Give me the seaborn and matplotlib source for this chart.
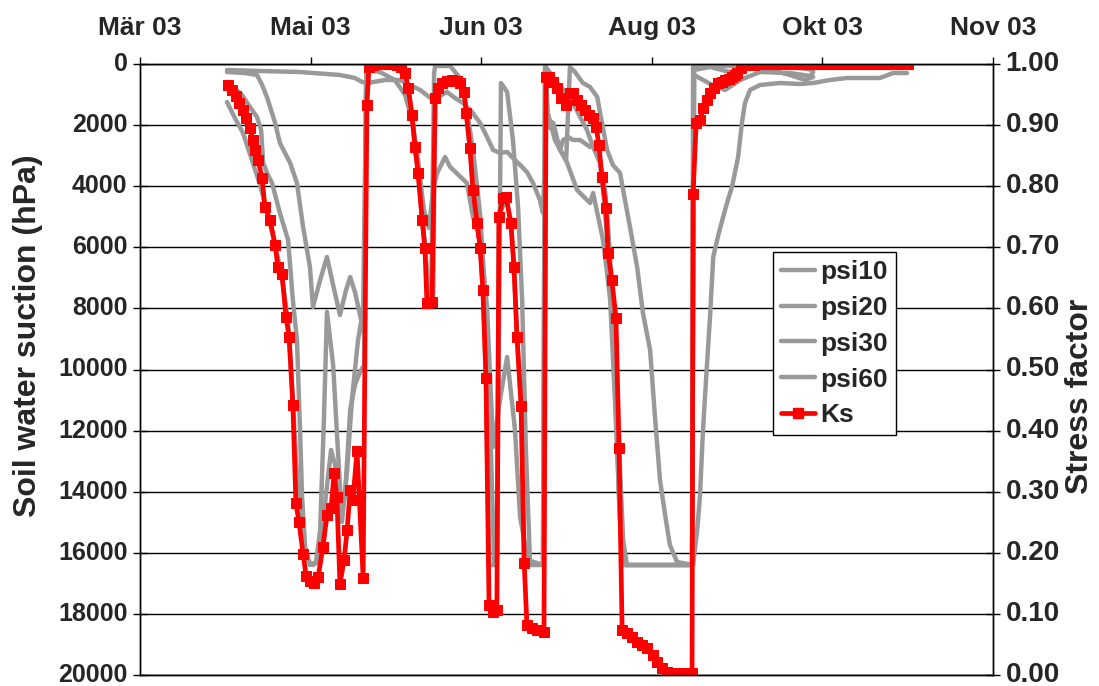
import numpy as np
import pandas as pd
import matplotlib
matplotlib.use("Agg")
import matplotlib.pyplot as plt
from matplotlib.lines import Line2D
import seaborn as sns

# ---------------- data (day of year 2003, suction in hPa, stress factor) ----------------
x_ticks = [77, 127, 177, 227, 277, 327]
x_tick_labels = ["Mär 03", "Mai 03", "Jun 03", "Aug 03", "Okt 03", "Nov 03"]
y_left_ticks = [0, 2000, 4000, 6000, 8000, 10000, 12000, 14000, 16000, 18000, 20000]
y_right_ticks = [0.0, 0.1, 0.2, 0.3, 0.4, 0.5, 0.6, 0.7, 0.8, 0.9, 1.0]

psi10_day = [102.5, 104.8, 107.2, 109.8, 112.2, 114.5, 116.6, 118.6, 120.4, 121.8, 123.0, 124.5, 126.0,
             127.7, 129.2, 130.3, 131.5, 133.0, 134.2, 135.6, 137.1, 138.6, 140.0, 141.5, 142.7, 143.3,
             143.8, 145.9, 150.3, 153.2, 154.7, 156.1, 157.6, 159.1, 160.2, 161.4, 162.3, 163.2, 163.5,
             167.9, 170.8, 172.8, 174.6, 176.7, 178.1, 179.6, 180.8, 181.6, 182.8, 184.6, 186.3, 187.8,
             189.0, 190.1, 191.3, 195.1, 195.7, 198.1, 200.1, 202.2, 203.9, 206.0, 208.0, 209.8, 211.8,
             213.3, 214.2, 214.8, 215.6, 216.8, 217.7, 218.6, 219.7, 229.4, 238.8, 239.1, 247.0, 258.7,
             270.4, 274.3]
psi10_hpa = [1244, 1767, 2258, 3142, 3960, 4942, 5924, 6972, 8444, 10997, 13452, 15416, 16234,
             16400, 16300, 15416, 14107, 12634, 13125, 14925, 14107, 11325, 10506, 10081, 9852, 300,
             100, 65, 98, 196, 524, 1178, 2487, 4124, 5597, 7397, 7888, 300, 65,
             65, 458, 1506, 2815, 4942, 7397, 11652, 16400, 16400, 622, 916, 2487, 4680,
             7724, 12634, 16300, 16400, 65, 425, 753, 949, 1276, 1735, 2160, 2717, 3240,
             4124, 5335, 6415, 7724, 10342, 13289, 15579, 16400, 16400, 16400, 65, 65, 65,
             131, 196]

psi20_day = [104.3, 106.9, 109.2, 111.3, 112.5, 113.1, 114.5, 115.7, 118.0, 120.4, 121.8, 123.0, 123.9,
             124.5, 125.4, 126.8, 128.6, 129.8, 130.9, 131.8, 133.6, 135.0, 136.2, 137.7, 139.1, 140.9,
             142.4, 143.3, 144.1, 147.3, 151.7, 154.7, 156.7, 158.5, 160.2, 161.7, 162.9, 164.1, 166.4,
             167.9, 172.8, 174.6, 176.7, 178.7, 180.5, 182.5, 184.6, 186.9, 188.4, 190.7, 195.1, 195.7,
             196.3, 198.6, 201.0, 202.2, 205.1, 208.9, 209.8, 212.7, 213.9, 214.8, 216.2, 217.7, 219.2,
             238.8, 239.4, 244.7, 248.5, 252.9, 258.7, 267.5, 273.4, 274.3]
psi20_hpa = [753, 1015, 1407, 1735, 2160, 3240, 3633, 3895, 4877, 5760, 7724, 9033, 11979,
             14172, 15809, 16400, 16300, 15252, 11652, 8117, 9852, 12634, 14990, 13289, 10997, 9033,
             8051, 524, 196, 262, 524, 1015, 1833, 3142, 4779, 5368, 4124, 3568, 3044,
             3371, 3895, 5008, 5760, 7953, 12536, 10997, 9590, 11979, 14827, 16234, 16400, 196,
             1506, 2487, 2978, 3240, 4124, 4550, 4222, 5760, 6841, 7724, 10997, 14925, 16400,
             16400, 360, 687, 851, 524, 262, 295, 393, 262]

psi30_day = [102.5, 107.8, 111.3, 112.8, 114.2, 116.6, 118.0, 121.0, 123.0, 124.8, 126.8, 127.7, 129.8,
             131.8, 133.6, 135.6, 137.4, 138.6, 140.0, 141.5, 142.7, 143.3, 144.1, 153.2, 154.7, 155.6,
             156.7, 157.6, 158.5, 159.7, 160.5, 162.0, 162.9, 163.5, 167.0, 170.8, 172.0, 172.6, 173.7,
             174.6, 175.8, 176.7, 177.5, 178.4, 179.3, 181.6, 182.2, 184.3, 185.7, 186.6, 187.5, 188.7,
             189.6, 190.4, 195.4, 196.0, 196.6, 198.1, 200.1, 201.0, 202.5, 203.9, 206.0, 208.9, 211.0,
             211.8, 213.0, 214.2, 215.3, 216.5, 217.4, 218.3, 238.8, 239.4, 244.1, 249.9, 255.8, 261.7,
             267.5, 271.9, 274.3]
psi30_hpa = [262, 295, 360, 687, 1080, 1931, 2586, 3240, 3895, 5335, 6644, 7953, 7070,
             6317, 7233, 8215, 7397, 6972, 7462, 8215, 8870, 450, 98, 98, 295, 786,
             1669, 2717, 3568, 5106, 6022, 7790, 7790, 1113, 556, 622, 916, 1604, 2749,
             4124, 5204, 6022, 7397, 10277, 16400, 16400, 5008, 4353, 5204, 6644, 8935, 11194,
             16234, 16400, 16400, 425, 1833, 1931, 2815, 2487, 2389, 2487, 2487, 2717, 2586,
             3142, 4451, 6088, 7724, 10997, 14270, 16400, 16400, 196, 98, 262, 65, 196,
             360, 524, 425]

psi60_day = [102.5, 112.2, 123.9, 135.6, 140.0, 142.1, 143.8, 148.8, 153.2, 156.1, 159.1, 162.9, 164.9,
             167.0, 169.3, 171.7, 174.3, 176.7, 178.7, 180.5, 182.5, 184.6, 186.3, 188.4, 190.4, 192.2,
             194.2, 195.1, 196.0, 198.1, 200.1, 201.9, 203.0, 204.5, 206.8, 208.9, 211.0, 212.4, 213.9,
             215.6, 217.7, 218.6, 220.6, 222.7, 224.4, 226.5, 228.0, 229.4, 230.9, 232.3, 234.4, 239.1,
             240.3, 241.1, 242.0, 243.2, 244.1, 245.0, 246.5, 247.9, 249.3, 250.5, 252.3, 253.4, 254.3,
             255.8, 258.7, 264.6, 270.4, 274.3, 279.2, 284.2, 293.9, 297.7, 301.8]
psi60_hpa = [196, 229, 262, 360, 458, 589, 622, 524, 524, 687, 851, 1178, 1047,
             916, 1113, 1276, 1571, 1931, 2389, 2815, 2913, 2880, 3077, 3306, 3535, 3895,
             4451, 4877, 1997, 2160, 2815, 3142, 98, 262, 622, 753, 1080, 1931, 2815,
             3306, 3568, 4124, 5335, 6644, 8150, 9361, 11652, 13616, 14761, 15743, 16300, 16400,
             15252, 14172, 11979, 9786, 8215, 6317, 5597, 5008, 4451, 4026, 3044, 1931, 1276,
             851, 687, 622, 655, 622, 524, 458, 458, 295, 295]

ks_day = [102.8, 104.0, 105.1, 106.0, 107.2, 108.1, 109.2, 110.1, 110.7, 111.6, 112.8, 113.6, 115.1,
          116.6, 117.4, 118.6, 119.8, 120.7, 121.8, 122.7, 123.6, 124.8, 125.7, 126.8, 128.0, 129.2,
          130.6, 131.8, 133.0, 133.9, 134.7, 135.6, 136.8, 137.7, 138.6, 139.4, 140.6, 142.4, 143.5,
          144.1, 145.3, 146.5, 147.6, 148.8, 150.0, 151.2, 152.3, 153.5, 154.7, 155.6, 156.7, 157.6,
          158.5, 159.7, 160.5, 161.1, 162.6, 163.5, 164.3, 165.5, 167.0, 168.4, 169.9, 170.8, 172.0,
          172.6, 173.7, 174.6, 175.8, 176.7, 177.5, 178.4, 179.3, 180.5, 181.6, 182.2, 183.4, 184.3,
          185.7, 186.6, 187.5, 188.7, 189.6, 190.4, 191.9, 193.4, 195.4, 196.0, 196.9, 198.1, 199.2,
          200.4, 201.9, 203.0, 203.9, 205.1, 206.3, 207.4, 208.6, 209.8, 210.7, 211.5, 212.4, 213.6,
          214.2, 215.3, 216.5, 217.4, 218.3, 219.7, 221.2, 222.7, 224.1, 225.6, 227.4, 228.5, 230.0,
          231.5, 233.2, 235.3, 237.3, 238.8, 239.1, 240.0, 241.2, 242.0, 243.2, 244.1, 245.3, 246.5,
          247.5, 248.5, 249.5, 250.5, 251.3, 252.0, 253.1, 254.6, 256, 257, 258, 259, 260, 261, 262,
          263, 264, 265, 266, 267, 268, 269, 270, 271, 272, 273, 274, 275, 276, 277, 278, 279, 280,
          281, 282, 283, 284, 285, 286, 287, 288, 289, 290, 291, 292, 293, 294, 295, 296, 297, 298,
          299, 300, 301, 302]
ks_val = [0.966, 0.957, 0.948, 0.936, 0.925, 0.912, 0.895, 0.876, 0.859, 0.843, 0.813, 0.766, 0.745,
          0.704, 0.668, 0.656, 0.586, 0.553, 0.442, 0.281, 0.250, 0.198, 0.162, 0.154, 0.150, 0.160,
          0.209, 0.262, 0.273, 0.331, 0.291, 0.149, 0.188, 0.237, 0.303, 0.286, 0.367, 0.159, 0.933,
          0.995, 0.998, 1.0, 1.0, 1.0, 1.0, 1.0, 0.998, 0.995, 0.985, 0.961, 0.917, 0.864,
          0.822, 0.745, 0.699, 0.609, 0.610, 0.944, 0.961, 0.969, 0.972, 0.974, 0.972, 0.969, 0.954,
          0.920, 0.863, 0.794, 0.740, 0.699, 0.630, 0.486, 0.114, 0.103, 0.106, 0.750, 0.781, 0.782,
          0.740, 0.668, 0.553, 0.440, 0.183, 0.082, 0.077, 0.074, 0.070, 0.979, 0.979, 0.971, 0.961,
          0.944, 0.933, 0.953, 0.953, 0.941, 0.933, 0.925, 0.917, 0.912, 0.897, 0.867, 0.815, 0.764,
          0.691, 0.646, 0.584, 0.371, 0.074, 0.069, 0.062, 0.054, 0.049, 0.044, 0.033, 0.021, 0.011,
          0.005, 0.003, 0.003, 0.003, 0.003, 0.787, 0.903, 0.908, 0.928, 0.941, 0.953, 0.961, 0.969,
          0.971, 0.974, 0.976, 0.979, 0.982, 0.985, 0.993, 0.998, 0.999, 0.999, 1.0, 1.0, 1.0, 1.0, 1.0,
          1.0, 1.0, 1.0, 1.0, 1.0, 1.0, 1.0, 1.0, 1.0, 1.0, 1.0, 1.0, 1.0, 1.0, 1.0, 1.0, 1.0, 1.0,
          1.0, 1.0, 1.0, 1.0, 1.0, 1.0, 1.0, 1.0, 1.0, 1.0, 1.0, 1.0, 1.0, 1.0, 1.0, 1.0, 1.0, 1.0,
          1.0, 1.0, 1.0, 1.0]

series_names = ["psi10", "psi20", "psi30", "psi60"]
gray_days = [psi10_day, psi20_day, psi30_day, psi60_day]
gray_vals = [psi10_hpa, psi20_hpa, psi30_hpa, psi60_hpa]

# ---------------- style ----------------
sns.set_style("white")
plt.rcParams["font.family"] = ["Liberation Sans", "DejaVu Sans"]
plt.rcParams["font.weight"] = "bold"

GRAY = "#999999"
RED = "#ff0000"

fig = plt.figure(figsize=(10.99, 6.86), dpi=100)
ax = fig.add_axes([140 / 1099, 1 - 675 / 686, 853 / 1099, 611 / 686])
ax2 = ax.twinx()

for name, d, v in zip(series_names, gray_days, gray_vals):
    df = pd.DataFrame({"day": d, "val": v})
    sns.lineplot(data=df, x="day", y="val", ax=ax, color=GRAY, linewidth=3.2,
                 sort=False, estimator=None, legend=False)

dfk = pd.DataFrame({"day": ks_day, "ks": ks_val})
sns.lineplot(data=dfk, x="day", y="ks", ax=ax2, color=RED, linewidth=3.4, marker="s",
             markersize=6.5, markeredgecolor=RED, markerfacecolor=RED,
             sort=False, estimator=None, legend=False)

# axes limits / ticks
ax.set_xlim(77, 327)
ax.set_ylim(20000, 0)
ax2.set_ylim(0, 1)

ax.xaxis.tick_top()
ax.set_xticks(x_ticks)
ax.set_xticklabels(x_tick_labels)
ax.tick_params(axis="x", which="major", direction="out", length=5, width=1, color="black",
               pad=12, labelsize=19, top=True, bottom=False)
ax.set_yticks(y_left_ticks)
ax.set_yticklabels([str(t) for t in y_left_ticks])
ax.tick_params(axis="y", direction="inout", length=10, width=1, color="black", pad=4, labelsize=18)
ax2.set_yticks(y_right_ticks)
ax2.set_yticklabels([f"{t:.2f}" for t in y_right_ticks])
ax2.tick_params(axis="y", direction="inout", length=10, width=1, color="black", pad=4, labelsize=20)

for lab in ax.get_xticklabels():
    lab.set_fontweight("bold")
for lab in ax.get_yticklabels() + ax2.get_yticklabels():
    lab.set_fontweight("bold")
    lab.set_verticalalignment("center")

ax.yaxis.grid(True, color="black", linewidth=1.0)
ax.xaxis.grid(False)
ax.set_axisbelow(True)
ax.set_xlabel("")
ax.set_ylabel("")
ax2.set_ylabel("")
fig.text(28 / 1099, 1 - 336 / 686, "Soil water suction (hPa)", rotation=90, ha="center", va="center",
         fontsize=23, fontweight="bold")
fig.text(1080 / 1099, 1 - 396 / 686, "Stress factor", rotation=90, ha="center", va="center",
         fontsize=23, fontweight="bold")

for a in (ax, ax2):
    for s in a.spines.values():
        s.set_color("black")
        s.set_linewidth(1.0)
ax2.set_zorder(ax.get_zorder() + 1)
ax2.patch.set_visible(False)

handles = [Line2D([], [], color=GRAY, lw=3.2) for _ in series_names]
handles.append(Line2D([], [], color=RED, lw=3.4, marker="s", markersize=6.5))
leg = ax2.legend(handles, series_names + ["Ks"], loc="upper left",
                 bbox_to_anchor=((773 - 140) / 853, (675 - 252) / 611), borderaxespad=0,
                 frameon=True, fancybox=False, edgecolor="black", framealpha=1,
                 prop={"weight": "bold", "size": 19}, handlelength=1.3, handletextpad=0.2,
                 labelspacing=0.45, borderpad=0.3)
leg.get_frame().set_linewidth(1.0)

fig.savefig("out.png", dpi=100)
